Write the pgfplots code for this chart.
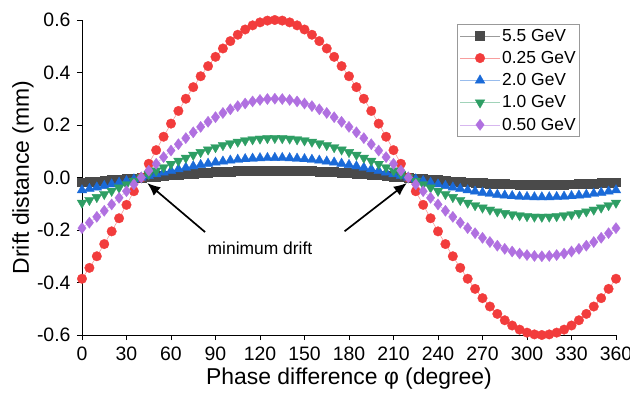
\documentclass[border=0pt]{standalone}
\usepackage{pgfplots}
\pgfplotsset{compat=1.18}
\usepackage{pgfplotstable}
\usepackage{fontspec}
\setmainfont{Liberation Sans}
\usetikzlibrary{arrows.meta}
\definecolor{cgray}{HTML}{4A4A4A}
\definecolor{cred}{HTML}{F23C3C}
\definecolor{cblue}{HTML}{1A6AD8}
\definecolor{cgreen}{HTML}{2E9E64}
\definecolor{cpurple}{HTML}{B070E0}
\pgfplotstableread{
phi g r b gr p
0 -0.0175 -0.3857 -0.0482 -0.0964 -0.1928
5 -0.0157 -0.3442 -0.0430 -0.0860 -0.1721
10 -0.0137 -0.3000 -0.0375 -0.0750 -0.1500
15 -0.0115 -0.2536 -0.0317 -0.0634 -0.1268
20 -0.0093 -0.2052 -0.0257 -0.0513 -0.1026
25 -0.0071 -0.1553 -0.0194 -0.0388 -0.0776
30 -0.0047 -0.1042 -0.0130 -0.0260 -0.0521
35 -0.0024 -0.0523 -0.0065 -0.0131 -0.0262
40 0 0 0 0 0
45 0.0024 0.0523 0.0065 0.0131 0.0262
50 0.0047 0.1042 0.0130 0.0260 0.0521
55 0.0071 0.1553 0.0194 0.0388 0.0776
60 0.0093 0.2052 0.0257 0.0513 0.1026
65 0.0115 0.2536 0.0317 0.0634 0.1268
70 0.0137 0.3000 0.0375 0.0750 0.1500
75 0.0157 0.3442 0.0430 0.0860 0.1721
80 0.0175 0.3857 0.0482 0.0964 0.1928
85 0.0193 0.4243 0.0530 0.1061 0.2121
90 0.0209 0.4596 0.0575 0.1149 0.2298
95 0.0224 0.4915 0.0614 0.1229 0.2458
100 0.0236 0.5196 0.0650 0.1299 0.2598
105 0.0247 0.5438 0.0680 0.1359 0.2719
110 0.0257 0.5638 0.0705 0.1410 0.2819
115 0.0264 0.5795 0.0724 0.1449 0.2898
120 0.0269 0.5909 0.0739 0.1477 0.2954
125 0.0272 0.5977 0.0747 0.1494 0.2989
130 0.0273 0.6000 0.0750 0.1500 0.3000
135 0.0272 0.5977 0.0747 0.1494 0.2989
140 0.0269 0.5909 0.0739 0.1477 0.2954
145 0.0264 0.5795 0.0724 0.1449 0.2898
150 0.0257 0.5638 0.0705 0.1410 0.2819
155 0.0247 0.5438 0.0680 0.1359 0.2719
160 0.0236 0.5196 0.0650 0.1299 0.2598
165 0.0224 0.4915 0.0614 0.1229 0.2458
170 0.0209 0.4596 0.0575 0.1149 0.2298
175 0.0193 0.4243 0.0530 0.1061 0.2121
180 0.0175 0.3857 0.0482 0.0964 0.1928
185 0.0157 0.3442 0.0430 0.0860 0.1721
190 0.0137 0.3000 0.0375 0.0750 0.1500
195 0.0115 0.2536 0.0317 0.0634 0.1268
200 0.0093 0.2052 0.0257 0.0513 0.1026
205 0.0071 0.1553 0.0194 0.0388 0.0776
210 0.0047 0.1042 0.0130 0.0260 0.0521
215 0.0024 0.0523 0.0065 0.0131 0.0262
220 0 0 0 0 0
225 -0.0024 -0.0523 -0.0065 -0.0131 -0.0262
230 -0.0047 -0.1042 -0.0130 -0.0260 -0.0521
235 -0.0071 -0.1553 -0.0194 -0.0388 -0.0776
240 -0.0093 -0.2052 -0.0257 -0.0513 -0.1026
245 -0.0115 -0.2536 -0.0317 -0.0634 -0.1268
250 -0.0137 -0.3000 -0.0375 -0.0750 -0.1500
255 -0.0157 -0.3442 -0.0430 -0.0860 -0.1721
260 -0.0175 -0.3857 -0.0482 -0.0964 -0.1928
265 -0.0193 -0.4243 -0.0530 -0.1061 -0.2121
270 -0.0209 -0.4596 -0.0575 -0.1149 -0.2298
275 -0.0224 -0.4915 -0.0614 -0.1229 -0.2458
280 -0.0236 -0.5196 -0.0650 -0.1299 -0.2598
285 -0.0247 -0.5438 -0.0680 -0.1359 -0.2719
290 -0.0257 -0.5638 -0.0705 -0.1410 -0.2819
295 -0.0264 -0.5795 -0.0724 -0.1449 -0.2898
300 -0.0269 -0.5909 -0.0739 -0.1477 -0.2954
305 -0.0272 -0.5977 -0.0747 -0.1494 -0.2989
310 -0.0273 -0.6000 -0.0750 -0.1500 -0.3000
315 -0.0272 -0.5977 -0.0747 -0.1494 -0.2989
320 -0.0269 -0.5909 -0.0739 -0.1477 -0.2954
325 -0.0264 -0.5795 -0.0724 -0.1449 -0.2898
330 -0.0257 -0.5638 -0.0705 -0.1410 -0.2819
335 -0.0247 -0.5438 -0.0680 -0.1359 -0.2719
340 -0.0236 -0.5196 -0.0650 -0.1299 -0.2598
345 -0.0224 -0.4915 -0.0614 -0.1229 -0.2458
350 -0.0209 -0.4596 -0.0575 -0.1149 -0.2298
355 -0.0193 -0.4243 -0.0530 -0.1061 -0.2121
360 -0.0175 -0.3857 -0.0482 -0.0964 -0.1928
}\drift
\begin{document}
\begin{tikzpicture}
\useasboundingbox (-82bp,-61bp) rectangle (548bp,335bp);
\begin{axis}[
  scale only axis,
  width=534bp, height=315bp,
  xmin=0, xmax=360, ymin=-0.6, ymax=0.6,
  axis x line=bottom, axis y line=left,
  axis line style={-, line width=0.8bp, black},
  tick align=outside,
  major tick length=5bp,
  tick style={line width=0.8bp, black},
  xtick={0,30,...,360},
  xticklabels={0,30,60,90,120,150,180,210,240,270,300,330,360},
  ytick={-0.6,-0.4,-0.2,0,0.2,0.4,0.6},
  yticklabels={-0.6,-0.4,-0.2,0.0,0.2,0.4,0.6},
  ticklabel style={font=\fontsize{19.5}{23}\selectfont},
  xticklabel style={yshift=-3bp},
  yticklabel style={xshift=-3bp},
  xlabel={Phase difference φ (degree)},
  ylabel={Drift distance (mm)},
  label style={font=\fontsize{23}{27}\selectfont},
  xlabel style={at={(axis description cs:0.5,-0.1397)}, anchor=center},
  ylabel style={at={(axis description cs:-0.1105,0.5)}, anchor=center},
  clip=false,
  legend cell align=left,
  legend style={at={(0.933,0.987)}, anchor=north east, draw=gray!80, line width=0.8bp,
    font=\fontsize{17.5}{20}\selectfont, inner xsep=2bp, inner ysep=2.5bp,
    row sep=4.6bp},
  legend image code/.code={\draw[mark repeat=2,mark phase=2] plot coordinates {(0cm,0cm) (0.7cm,0cm) (1.4cm,0cm)};},
]
\addplot[color=cgray!55, line width=0.6bp, mark=square*, mark size=4.4bp, mark options={fill=cgray, draw=cgray, line width=0.3bp}] table[x=phi,y=g] {\drift};
\addlegendentry{5.5 GeV}
\addplot[color=cred!50, line width=0.6bp, mark=*, mark size=4.8bp, mark options={fill=cred, draw=cred, line width=0.3bp}] table[x=phi,y=r] {\drift};
\addlegendentry{0.25 GeV}
\addplot[color=cblue!45, line width=0.6bp, mark=triangle*, mark size=5.6bp, mark options={fill=cblue, draw=cblue, line width=0.3bp}] table[x=phi,y=b] {\drift};
\addlegendentry{2.0 GeV}
\addplot[color=cgreen!45, line width=0.6bp, mark=triangle*, mark size=5.6bp, mark options={fill=cgreen, draw=cgreen, rotate=180, line width=0.3bp}] table[x=phi,y=gr] {\drift};
\addlegendentry{1.0 GeV}
\addplot[color=cpurple!50, line width=0.6bp, mark=diamond*, mark size=5.6bp, mark options={fill=cpurple, draw=cpurple, line width=0.3bp}] table[x=phi,y=p] {\drift};
\addlegendentry{0.50 GeV}
\draw[-{Latex[length=13bp,width=11bp]}, line width=1.7bp] (axis cs:83,-0.208) -- (axis cs:44,-0.021);
\draw[-{Latex[length=13bp,width=11bp]}, line width=1.7bp] (axis cs:177,-0.205) -- (axis cs:219,-0.021);
\node[font=\fontsize{17.5}{20}\selectfont] at (axis cs:120,-0.269) {minimum drift};
\end{axis}
\end{tikzpicture}
\end{document}
